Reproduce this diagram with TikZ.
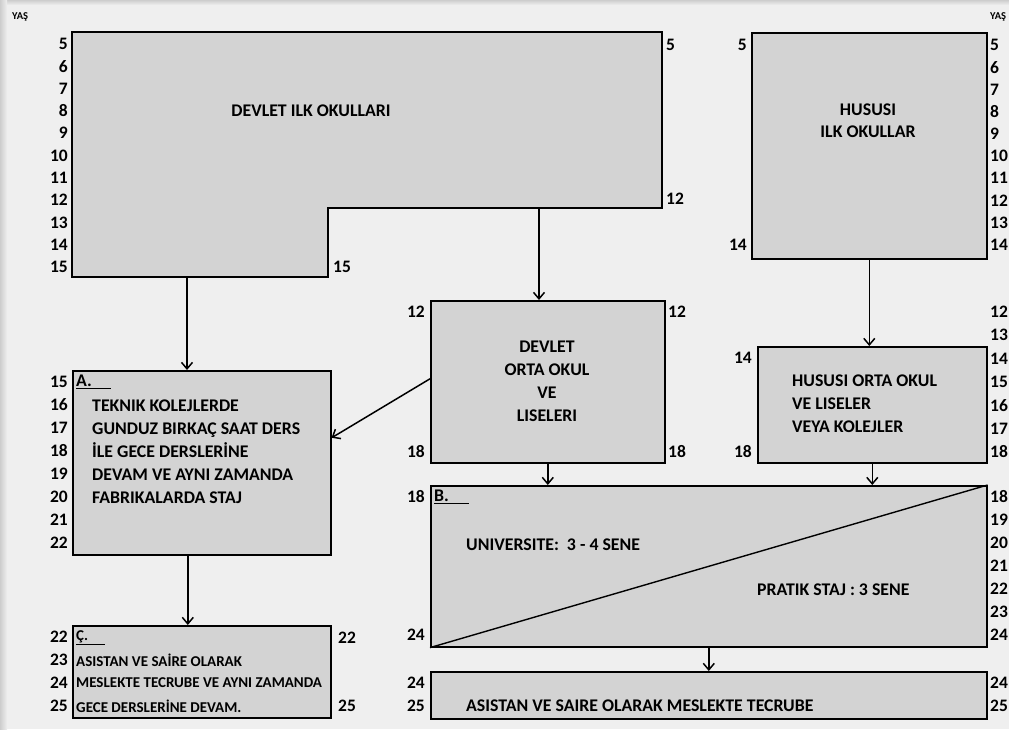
\documentclass[tikz,border=0pt]{standalone}
\usepackage{fontspec}
\setmainfont{Carlito}
\usetikzlibrary{arrows.meta,calc}
\definecolor{bg}{HTML}{EFEFEF}
\definecolor{boxfill}{HTML}{D3D3D3}
\definecolor{edge}{HTML}{CDCDCD}
\begin{document}
\begin{tikzpicture}[x=1pt,y=-1pt,
  box/.style={draw=black, line width=1.6pt, fill=boxfill, inner sep=0pt, anchor=north west},
  num/.style={font=\bfseries\fontsize{17.5}{17.5}\selectfont, inner sep=0pt},
  lnum/.style={num, anchor=east},
  rnum/.style={num, anchor=west},
  txt/.style={font=\bfseries\fontsize{17.8}{23}\selectfont, inner sep=0pt},
  stxt/.style={font=\bfseries\fontsize{15}{15}\selectfont, inner sep=0pt, anchor=west},
  yas/.style={font=\bfseries\fontsize{10.5}{10.5}\selectfont, inner sep=0pt, anchor=west},
  arr/.style={line width=1.5pt, -{Straight Barb[length=6.5pt,width=11pt]}}
]
\useasboundingbox (0,0) rectangle (1009,729);
\fill[bg] (0,0) rectangle (1009,729);
\shade[top color=edge, bottom color=bg] (0,0) rectangle (1009,5);
\shade[left color=edge, right color=bg] (0,0) rectangle (7,729);

\node[yas] (yasL) at (12,17) {YAŞ};
\node[yas] (yasR) at (990,17) {YAŞ};

% Devlet ilk okullari (L shape)
\draw[line width=1.6pt, fill=boxfill] (72,32) -- (662,32) -- (662,208) -- (328,208) -- (328,277) -- (72,277) -- cycle;
\coordinate (dilkA) at (187,277);
\coordinate (dilkB) at (539,208);
\node[txt] (dilktxt) at (311,111) {DEVLET ILK OKULLARI};

% boxes
\node[box, minimum width=235pt, minimum height=226pt] (hilk) at (751,32) {};
\node[box, minimum width=234pt, minimum height=162pt] (dorta) at (430,300) {};
\node[box, minimum width=229pt, minimum height=116pt] (horta) at (757,346) {};
\node[box, minimum width=258pt, minimum height=184pt] (A) at (72,370) {};
\node[box, minimum width=258pt, minimum height=92pt] (C) at (72,625) {};
\node[box, minimum width=556pt, minimum height=161pt] (B) at (430,485) {};
\node[box, minimum width=556pt, minimum height=47pt] (D) at (430,671) {};
\draw[line width=1.4pt] (B.south west) -- (B.north east);

% connectors
\draw[arr] (dilkA) -- (dilkA |- A.north);
\draw[arr] (dilkB) -- (dilkB |- dorta.north);
\draw[arr] (hilk.south) -- (hilk.south |- horta.north);
\draw[arr] ([yshift=3pt]dorta.west) -- ([yshift=25pt]A.east);
\draw[arr] ([xshift=-14pt]A.south) -- ([xshift=-14pt]C.north);
\draw[arr] (dorta.south) -- (dorta.south |- B.north);
\draw[arr] (horta.south) -- (horta.south |- B.north);
\draw[arr] (B.south) -- (B.south |- D.north);

% texts
\node[txt, align=center, font=\bfseries\fontsize{17.8}{22}\selectfont] (hilktxt) at (868,121) {HUSUSI\\ILK OKULLAR};
\node[txt, align=center] (dortatxt) at (547,381) {DEVLET\\ORTA OKUL\\VE\\LISELERI};
\node[txt, align=left, anchor=west] (hortatxt) at (792,404) {HUSUSI ORTA OKUL\\VE LISELER\\VEYA KOLEJLER};
\node[txt, anchor=west] (Alab) at (76,382) {\underline{A.\hspace{1.1em}}};
\node[txt, align=left, anchor=west] (Atxt) at (92,452) {TEKNIK KOLEJLERDE\\GUNDUZ BIRKAÇ SAAT DERS\\İLE GECE DERSLERİNE\\DEVAM VE AYNI ZAMANDA\\FABRIKALARDA STAJ};
\node[txt, anchor=west] (Blab) at (434,497) {\underline{B.\hspace{1.1em}}};
\node[txt, anchor=west] (Btxt1) at (466,545) {UNIVERSITE:\ \ 3 - 4 SENE};
\node[txt, anchor=west] (Btxt2) at (757,590) {PRATIK STAJ : 3 SENE};
\node[stxt] (Clab) at (76,638) {\underline{Ç.\hspace{1.1em}}};
\node[stxt] (Ctxt1) at (76,660) {ASISTAN VE SAİRE OLARAK};
\node[stxt] (Ctxt2) at (76,683) {MESLEKTE TECRUBE VE AYNI ZAMANDA};
\node[stxt] (Ctxt3) at (76,706) {GECE DERSLERİNE DEVAM.};
\node[txt, anchor=west] (Dtxt) at (466,706) {ASISTAN VE SAIRE OLARAK MESLEKTE TECRUBE};

% age numbers
\foreach \n [count=\i from 0] in {5,...,15} \node[lnum] (dl\n) at (68,{44+\i*22.3}) {\n};
\node[rnum] (dr5) at (666,45) {5};
\node[rnum] (dr12) at (666,199) {12};
\node[rnum] (ds15) at (333,267) {15};
\node[lnum] (hl5) at (747,45) {5};
\node[lnum] (hl14) at (747,245) {14};
\foreach \n [count=\i from 0] in {5,...,14} \node[rnum] (hr\n) at (990,{45+\i*22.2}) {\n};
\node[lnum] (ol12) at (425,312) {12};
\node[lnum] (ol18) at (425,452) {18};
\node[rnum] (or12) at (668,312) {12};
\node[rnum] (or18) at (668,452) {18};
\node[lnum] (hol14) at (752,358) {14};
\node[lnum] (hol18) at (752,452) {18};
\foreach \n [count=\i from 0] in {12,...,18} \node[rnum] (hor\n) at (990,{312+\i*23.3}) {\n};
\foreach \n [count=\i from 0] in {15,...,22} \node[lnum] (al\n) at (68,{382+\i*23}) {\n};
\node[lnum] (bl18) at (425,497) {18};
\node[lnum] (bl24) at (425,635) {24};
\foreach \n [count=\i from 0] in {18,...,24} \node[rnum] (br\n) at (990,{497+\i*23}) {\n};
\foreach \n [count=\i from 0] in {22,...,25} \node[lnum] (cl\n) at (68,{637+\i*23}) {\n};
\node[rnum] (cr22) at (338,638) {22};
\node[rnum] (cr25) at (338,706) {25};
\node[lnum] (dl24b) at (425,683) {24};
\node[lnum] (dl25b) at (425,706) {25};
\node[rnum] (dr24b) at (990,683) {24};
\node[rnum] (dr25b) at (990,706) {25};
\end{tikzpicture}
\end{document}
